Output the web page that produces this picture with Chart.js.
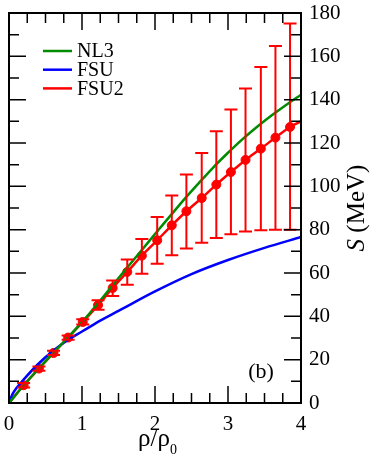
<!DOCTYPE html>
<html>
<head>
<meta charset="utf-8">
<script src="https://cdn.jsdelivr.net/npm/chart.js@4.4.1/dist/chart.umd.min.js"></script>
<style>
  html, body { margin: 0; padding: 0; background: #fff; }
  #wrap { width: 373px; height: 458px; }
</style>
</head>
<body>
<div id="wrap"><canvas id="graphe" width="373" height="458"></canvas></div>
<script>
// points FSU2 (rho/rho0, S en MeV) et barres d'erreur
const fsu2X    = [0.20, 0.41, 0.61, 0.81, 1.01, 1.22, 1.42, 1.62, 1.82, 2.03, 2.23, 2.43, 2.64, 2.84, 3.04, 3.24, 3.45, 3.65, 3.85];
const fsu2S    = [8.2, 15.9, 23.1, 30.2, 37.4, 45.2, 53.1, 60.5, 68.0, 75.1, 82.0, 88.5, 94.6, 100.8, 106.6, 112.2, 117.4, 122.5, 127.4];
const fsu2Bas  = [7.2, 14.9, 22.1, 29.2, 36.2, 43.0, 49.4, 54.6, 59.7, 64.3, 68.2, 71.3, 74.0, 76.2, 77.9, 79.2, 79.7, 80.0, 80.0];
const fsu2Haut = [9.2, 16.9, 24.1, 31.2, 38.6, 47.4, 56.5, 66.2, 75.7, 85.8, 95.8, 105.5, 115.4, 125.4, 135.5, 145.1, 155.1, 164.8, 175.1];

// courbe FSU2 continue
const fsu2LigneX = [0, 0.20, 0.41, 0.61, 0.81, 1.01, 1.22, 1.42, 1.62, 1.82, 2.03, 2.23, 2.43, 2.64, 2.84, 3.04, 3.24, 3.45, 3.65, 3.85, 4.0];
const fsu2LigneS = [0, 8.2, 15.9, 23.1, 30.2, 37.4, 45.2, 53.1, 60.5, 68.0, 75.1, 82.0, 88.5, 94.6, 100.8, 106.6, 112.2, 117.4, 122.5, 127.4, 130.0];

// NL3
const nl3X = [0, 0.2, 0.4, 0.6, 0.8, 1.0, 1.2, 1.4, 1.6, 1.8, 2.0, 2.2, 2.4, 2.6, 2.8, 3.0, 3.2, 3.4, 3.6, 3.8, 4.0];
const nl3S = [0, 8.1, 15.7, 22.9, 30.0, 37.3, 45.2, 53.5, 61.7, 69.8, 78.0, 86.0, 94.0, 101.5, 108.8, 115.5, 121.8, 127.5, 132.8, 137.7, 142.3];

// FSU
const fsuX = [0, 0.05, 0.1, 0.2, 0.4, 0.6, 0.8, 1.0, 1.25, 1.5, 2.0, 2.5, 3.0, 3.5, 4.0];
const fsuS = [0, 4.2, 6.8, 10.8, 18.0, 24.0, 29.0, 33.0, 38.0, 42.5, 51.5, 59.5, 66.0, 71.6, 76.6];

const legende = ['NL3', 'FSU', 'FSU2'];
const couleurs = ['#008b00', '#0000ff', '#ff0000'];

const police = "'Liberation Serif', serif";

function points(xs, ys) {
  return xs.map((x, i) => ({ x: x, y: ys[i] }));
}

// cadre, graduations internes, barres d'erreur, légende et titres
const decor = {
  id: 'decor',
  afterDatasetsDraw(chart) {
    const { ctx, scales: { x, y } } = chart;
    ctx.save();
    ctx.strokeStyle = couleurs[2];
    ctx.lineWidth = 2;
    fsu2X.forEach((v, i) => {
      const px = x.getPixelForValue(v);
      const yb = y.getPixelForValue(fsu2Bas[i]);
      const yh = y.getPixelForValue(fsu2Haut[i]);
      ctx.beginPath();
      ctx.moveTo(px, yb); ctx.lineTo(px, yh);
      ctx.moveTo(px - 6.5, yb); ctx.lineTo(px + 6.5, yb);
      ctx.moveTo(px - 6.5, yh); ctx.lineTo(px + 6.5, yh);
      ctx.stroke();
    });
    ctx.restore();
  },
  afterDraw(chart) {
    const { ctx, chartArea: a, scales: { x, y } } = chart;
    ctx.save();
    ctx.strokeStyle = '#000';
    ctx.lineWidth = 2;
    ctx.strokeRect(a.left, a.top, a.right - a.left, a.bottom - a.top);

    ctx.lineWidth = 1.5;
    ctx.beginPath();
    for (let k = 0; k <= 16; k++) {
      const px = x.getPixelForValue(k * 0.25);
      const l = (k % 4 === 0) ? 17 : 10;
      ctx.moveTo(px, a.bottom); ctx.lineTo(px, a.bottom - l);
      ctx.moveTo(px, a.top); ctx.lineTo(px, a.top + l);
    }
    for (let k = 0; k <= 18; k++) {
      const py = y.getPixelForValue(k * 10);
      const l = (k % 2 === 0) ? 17 : 10;
      ctx.moveTo(a.left, py); ctx.lineTo(a.left + l, py);
      ctx.moveTo(a.right, py); ctx.lineTo(a.right - l, py);
    }
    ctx.stroke();

    // légende
    ctx.lineWidth = 2.5;
    ctx.font = '20px ' + police;
    ctx.fillStyle = '#000';
    ctx.textBaseline = 'middle';
    legende.forEach((nom, i) => {
      const ly = 51 + i * 18.7;
      ctx.strokeStyle = couleurs[i];
      ctx.beginPath();
      ctx.moveTo(43, ly); ctx.lineTo(72, ly);
      ctx.stroke();
      ctx.fillText(nom, 77, ly + 1);
    });

    // (b)
    ctx.font = '22px ' + police;
    ctx.textAlign = 'center';
    ctx.fillText('(b)', 261, 372);

    // titre axe x : rho/rho0
    ctx.textBaseline = 'alphabetic';
    ctx.textAlign = 'left';
    ctx.font = '25px ' + police;
    const t = 'ρ/ρ';
    const w = ctx.measureText(t).width;
    const x0 = 157 - w / 2 - 3;
    ctx.fillText(t, x0, 446);
    ctx.font = '14px ' + police;
    ctx.fillText('0', x0 + w, 454);

    // titre axe y : S (MeV)
    ctx.translate(364, 208);
    ctx.rotate(-Math.PI / 2);
    ctx.font = 'italic 25px ' + police;
    const ws = ctx.measureText('S').width;
    ctx.font = '25px ' + police;
    const wm = ctx.measureText(' (MeV)').width;
    const d = -(ws + wm) / 2;
    ctx.font = 'italic 25px ' + police;
    ctx.fillText('S', d, 0);
    ctx.font = '25px ' + police;
    ctx.fillText(' (MeV)', d + ws, 0);
    ctx.restore();
  }
};

new Chart(document.getElementById('graphe').getContext('2d'), {
  type: 'scatter',
  data: {
    datasets: [
      {
        label: legende[0],
        data: points(nl3X, nl3S),
        showLine: true,
        borderColor: couleurs[0],
        borderWidth: 2.5,
        pointRadius: 0,
        cubicInterpolationMode: 'monotone'
      },
      {
        label: legende[1],
        data: points(fsuX, fsuS),
        showLine: true,
        borderColor: couleurs[1],
        borderWidth: 2.5,
        pointRadius: 0,
        cubicInterpolationMode: 'monotone'
      },
      {
        label: legende[2],
        data: points(fsu2LigneX, fsu2LigneS),
        showLine: true,
        borderColor: couleurs[2],
        borderWidth: 2.5,
        pointRadius: 0,
        cubicInterpolationMode: 'monotone'
      },
      {
        label: 'FSU2 points',
        data: points(fsu2X, fsu2S),
        showLine: false,
        backgroundColor: couleurs[2],
        borderColor: couleurs[2],
        pointRadius: 4.5,
        pointHoverRadius: 4.5
      }
    ]
  },
  options: {
    responsive: false,
    animation: false,
    devicePixelRatio: 1,
    layout: { padding: { left: 9, top: 13, right: 0, bottom: 0 } },
    plugins: {
      legend: { display: false },
      tooltip: { enabled: false }
    },
    scales: {
      x: {
        type: 'linear',
        position: 'bottom',
        min: 0,
        max: 4,
        ticks: { stepSize: 1, padding: 1, color: '#000', maxRotation: 0, font: { family: police, size: 21 } },
        grid: { display: false },
        border: { display: false },
        afterFit(s) { s.height = 55; }
      },
      y: {
        type: 'linear',
        position: 'right',
        min: 0,
        max: 180,
        ticks: { stepSize: 20, padding: 0, color: '#000', font: { family: police, size: 21 } },
        grid: { display: false },
        border: { display: false },
        afterFit(s) { s.width = 72; }
      }
    }
  },
  plugins: [decor]
});
</script>
</body>
</html>
